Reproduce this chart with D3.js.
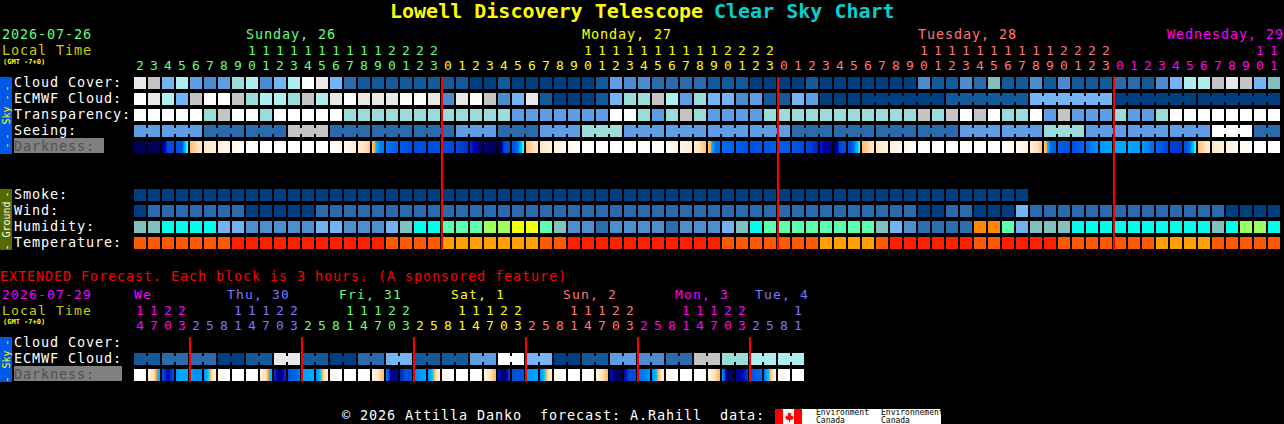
<!DOCTYPE html>
<html>
<head>
<meta charset="utf-8">
<script src="https://cdn.jsdelivr.net/npm/d3@7"></script>
<style>
  html, body { margin: 0; padding: 0; background: #000; overflow: hidden; }
  svg { display: block; }
  text { font-family: "DejaVu Sans Mono", monospace; white-space: pre; }
</style>
</head>
<body>
<div id="chart"></div>
<script>
// hours of the near forecast, one block per hour
var hours = [2,3,4,5,6,7,8,9,10,11,12,13,14,15,16,17,18,19,20,21,22,23,
  0,1,2,3,4,5,6,7,8,9,10,11,12,13,14,15,16,17,18,19,20,21,22,23,
  0,1,2,3,4,5,6,7,8,9,10,11,12,13,14,15,16,17,18,19,20,21,22,23,
  0,1,2,3,4,5,6,7,8,9,10,11];
var days = ['Sunday, 26', 'Monday, 27', 'Tuesday, 28', 'Wednesday, 29'];
var dayColors = ['#66ff77', '#ffff00', '#ff7777', '#ff00ff'];

// hours of the extended forecast, one block per 3 hours
var extHours = [14,17,20,23,
  2,5,8,11,14,17,20,23, 2,5,8,11,14,17,20,23, 2,5,8,11,14,17,20,23,
  2,5,8,11,14,17,20,23, 2,5,8,11,14,17,20,23, 2,5,8,11];
var extDays = ['We', 'Thu, 30', 'Fri, 31', 'Sat, 1', 'Sun, 2', 'Mon, 3', 'Tue, 4'];
var extDayColors = ['#ff00ff', '#7777ff', '#66ff77', '#ffff00', '#ff7777', '#ff00ff', '#7777ff'];

// sky levels, 0 = clear .. 10 = overcast, 11 = the greyish teal
var cloudColors = ['#003f7f', '#135a9a', '#2a6bad', '#4c8bcf', '#5e9de3', '#75b5f5',
  '#99dcd9', '#aeeeee', '#c4c4c4', '#e8e8e8', '#ffffff', '#80bfbf'];
var humidityColors = ['#2c6dae', '#4e8dd0', '#73b2f2', '#82c0c0', '#00ffea', '#5cffb0', '#9cff60', '#eeff10', '#ff8800'];
var temperatureColors = ['#ffa000', '#ff5a00', '#ff2000'];

var cloudCover = [9,8,5,7,4,3,4,6,7,3,5,7,10,9,5,2,1,1,1,1,1,1,
  1,1,0,0,1,0,0,0,0,0,0,1,4,3,3,2,2,2,2,1,1,1,0,0,
  0,0,1,0,0,0,0,0,0,0,3,1,1,3,2,11,1,1,3,1,3,1,1,1,
  2,2,1,3,5,7,7,8,9,8,5,11];
var ecmwf = [10,9,7,5,8,10,10,8,6,7,7,6,8,7,9,10,9,9,9,10,10,9,
  3,9,10,8,3,5,9,1,0,0,0,1,5,6,6,8,7,4,6,5,5,3,4,1,
  1,5,4,0,0,0, 0,1,5,0,0];
var ecmwfSpans = [1,1,1,1,1,1,1,1,1,1,1,1,1,1,1,1,1,1,1,1,1,1,
  1,1,1,1,1,1,1,1,1,1,1,1,1,1,1,1,1,1,1,1,1,1,1,1,
  1,1,1,1,1,1, 6,6,6,6,6];
var transparency = [10,10,10,10,10,6,8,10,10,6,10,10,10,10,10,6,6,6,6,6,6,6,
  6,6,6,6,6,4,4,4,4,4,4,4,10,10,6,4,6,8,6,4,4,4,4,6,
  6,6,6,6,6,6,6,6,6,6,8,6,8,10,8,10,6,6,10,4,8,4,4,4,
  6,4,4,6,10,10,10,10,10,10,10,10];
var seeing = [4,4,2,2,8,2,2,2,4,2,4,6,4,4,4,4,2,2,2,2,4,4,6,4,4,4,10,2];
var seeingSpans = [2,3,3,3,3,3,3,3,3,3,3,3,3,3,3,3,3,3,3,3,3,3,3,3,3,3,3,2];
// limiting magnitude at every hour boundary, negative = daylight
var darkness = [6,6,6,3,-0.4,-1.2,-1.8,-2.5,-3.5,-4,-4,-4,-4,-4,-3.8,-2.8,-1.6,-0.5,1.8,2.6,3.1,3,3.1,
  3.2,3.8,5.5,6,3,-0.4,-1.2,-1.9,-2.8,-4,-4,-4,-4,-4,-4,-3.2,-2.3,-1.4,-0.4,2,2.4,3,2.8,2.6,
  2.6,3.2,4,5.4,3,-0.3,-1.2,-1.9,-2.8,-4,-4,-4,-4,-4,-4,-4,-2.9,-1.9,-0.4,2.4,3,2.2,1.4,1,
  1,1.3,2.2,3.4,3.6,-0.4,-1.3,-2,-3,-4,-4,-4];
// dawn and dusk blocks change too fast for two stops
var twilightCols = [2,3,17,26,27,41,50,51,65,75];
var twilightStops = [[5.2,4.5,3,3,3],[3,3,3,0.5,-0.4],[-0.5,-0.05,1.5,1.8,1.8],[6,5.5,3.2,3,3],[3,2.8,2,0.5,-0.4],
  [-0.5,-0.05,1.8,2,2],[5.8,5,3.2,3,3],[3,3,2,0.5,-0.3],[-0.5,-0.05,2,2.4,2.4],[3,2.8,2,0.5,-0.4]];
var darkMags = [-4,-3,-2,-1,-0.2,0,0.01,0.3,1,1.5,2,2.5,3,3.5,4,4.5,5,5.5,6];
var darkColors = ['#ffffff','#fffaf2','#fff2e0','#ffe4c0','#ffb060','#ff9020','#00ffff','#00c0ff',
  '#00a8ff','#0090ff','#0070f0','#0060e8','#0050e0','#0040d0','#0020c0','#0000b0','#000090','#000070','#000058'];

var smoke = [0,0,0,0,0,0,0,0,0,0,0,0,0,0,0,0,0,0,0,0,0,0,
  0,0,0,0,0,0,0,0,0,0,0,0,0,0,0,0,0,0,0,0,0,0,0,0,
  0,0,0,0,0,0,0,0,0,0,0,0,0,0,0,0,0,0];
var wind = [0,2,2,2,2,2,2,2,0,0,0,0,0,2,2,2,2,2,2,2,2,2,
  2,2,2,2,2,2,2,2,2,2,2,2,2,2,2,2,2,2,2,2,2,2,2,2,
  2,2,2,2,2,2,2,2,2,2,0,0,2,2,0,0,0,5,2,2,2,2,2,2,
  2,2,2,2,2,2,2,2,0,0,0,0];
var humidity = [3,3,4,4,4,4,2,2,1,1,1,1,1,2,2,1,1,1,2,3,4,4,
  5,5,5,6,6,7,7,5,3,1,1,0,1,1,1,1,0,1,1,1,2,3,4,5,
  5,5,5,5,5,5,5,3,2,1,0,0,0,0,8,8,5,2,3,3,3,4,4,4,
  4,4,4,4,4,4,4,3,4,6,6,4];
var temperature = [1,1,1,1,1,1,1,2,2,2,2,2,2,2,2,2,2,2,1,1,1,1,
  0,0,0,0,0,0,0,1,1,2,2,2,2,2,2,2,2,2,2,2,1,1,1,1,
  1,1,1,0,0,0,0,1,2,2,2,2,2,2,1,1,2,2,2,2,1,1,1,1,
  1,1,1,0,0,0,0,1,1,1,1,1];

var extEcmwf = [1,2,2,0,1,9,1,0,2,5,1,1,4,10,5,0,1,4,3,2,8,6,7,7];
var extSpans = [2,2,2,2,2,2,2,2,2,2,2,2,2,2,2,2,2,2,2,2,2,2,2,2];
// magnitude at left, middle and right of each 3 hour block
var extDarkness = [[-4,-4,-3],[-2,-0.8,1],[3,4.5,3],[1.4,1,1],[1,1.5,1.5],[1.5,-0.2,-1.8],[-2.5,-4,-4],[-4,-4,-4],
  [-4,-4,-2.8],[-2,-0.8,1],[3.5,5.5,3.5],[3,2.4,1.8],[1.2,1,1],[1.6,-0.2,-1.8],[-2.5,-4,-4],[-4,-4,-4],
  [-4,-4,-3],[-2.5,-1,-0.3],[1.5,5.5,5],[4,3,3],[2,1.2,1.2],[1.6,-0.2,-1.8],[-2.5,-4,-4],[-4,-4,-4],
  [-4,-4,-2.8],[-2.2,-1,-0.2],[4,6,3.2],[3,3,2.8],[1.5,1.2,1.2],[1.5,-0.2,-1.8],[-2.5,-4,-4],[-4,-4,-4],
  [-4,-3.5,-2.5],[-2.2,-1,-0.2],[4,6,5.8],[4.5,3.2,3],[2,1.8,1.4],[1.6,-0.1,-1.8],[-2.5,-4,-4],[-4,-4,-4],
  [-4,-3.5,-2.5],[-2.2,-1,-0.2],[1,6,6],[5,4.5,3.5],[3,2.5,2],[2,-0.2,-1.8],[-2.5,-4,-4],[-4,-4,-4]];

var skyLabels = ['Cloud Cover:', 'ECMWF Cloud:', 'Transparency:', 'Seeing:', 'Darkness:'];
var groundLabels = ['Smoke:', 'Wind:', 'Humidity:', 'Temperature:'];
var extLabels = ['Cloud Cover:', 'ECMWF Cloud:', 'Darkness:'];

var width = 1284, height = 424;
var svg = d3.select('#chart').append('svg').attr('width', width).attr('height', height);

var cloudScale = d3.scaleOrdinal(d3.range(cloudColors.length), cloudColors);
var humidityScale = d3.scaleOrdinal(d3.range(humidityColors.length), humidityColors);
var temperatureScale = d3.scaleOrdinal(d3.range(temperatureColors.length), temperatureColors);
var darkScale = d3.scaleLinear().domain(darkMags).range(darkColors);

// 14 pixel step, 12 pixel block
function blockScale(n) {
  var band = d3.scaleBand().domain(d3.range(n)).range([134, 134 + 14 * n - 2]).paddingInner(1 / 7).paddingOuter(0);
  var xs = function (i) { return Math.round(band(i)); };
  xs.bandwidth = function () { return Math.round(band.bandwidth()); };
  return xs;
}
var x = blockScale(hours.length);
var extX = blockScale(extHours.length);

var skyY = d3.scaleBand().domain(skyLabels).range([77, 77 + 16 * 5 - 4]).paddingInner(0.25).paddingOuter(0);
var groundY = d3.scaleBand().domain(groundLabels).range([189, 189 + 16 * 4 - 4]).paddingInner(0.25).paddingOuter(0);
var extY = d3.scaleBand().domain(extLabels).range([337, 337 + 16 * 3 - 4]).paddingInner(0.25).paddingOuter(0);

// text keeps the 9 pixel character pitch of the original whatever its size
function addText(s, px, py, color, size) {
  size = size || 13.5;
  return svg.append('text').attr('x', px).attr('y', py).attr('fill', color)
    .style('font-size', size + 'px')
    .style('letter-spacing', (9 - 0.602 * size) + 'px')
    .text(s);
}

function addFree(s, px, py, color, size, weight) {
  return svg.append('text').attr('x', px).attr('y', py).attr('fill', color)
    .style('font-size', size + 'px').style('font-weight', weight || 'normal').text(s);
}

// plain row, one block per value
function drawRow(values, xs, y, colorOf) {
  svg.append('g').attr('shape-rendering', 'crispEdges').selectAll('rect')
    .data(values).join('rect')
    .attr('x', function (d, i) { return xs(i); })
    .attr('y', y)
    .attr('width', xs.bandwidth())
    .attr('height', 12)
    .attr('fill', colorOf);
}

// row where a value holds for several blocks, neighbours joined by a narrow link
function drawSpanRow(values, spans, xs, y, colorOf) {
  var g = svg.append('g').attr('shape-rendering', 'crispEdges');
  var col = 0;
  values.forEach(function (v, k) {
    for (var j = 0; j < spans[k]; j++) {
      g.append('rect').attr('x', xs(col)).attr('y', y).attr('width', xs.bandwidth()).attr('height', 12).attr('fill', colorOf(v));
      if (j < spans[k] - 1) {
        g.append('rect').attr('x', xs(col) + xs.bandwidth()).attr('y', y + 3).attr('width', 2).attr('height', 6).attr('fill', colorOf(v));
      }
      col++;
    }
  });
}

function drawDarkness(stops, xs, y) {
  var g = svg.append('g').attr('shape-rendering', 'crispEdges');
  stops.forEach(function (s, i) {
    var pos = d3.scaleLinear().domain(d3.range(s.length).map(function (k) { return k * 12 / (s.length - 1); })).range(s);
    d3.range(12).forEach(function (p) {
      g.append('rect').attr('x', xs(i) + p).attr('y', y).attr('width', 1).attr('height', 12)
        .attr('fill', darkScale(pos(p + 0.5)));
    });
  });
}

function drawHours(hrs, xs, colors, tensY, unitsY) {
  var day = 0;
  hrs.forEach(function (h, i) {
    if (i > 0 && h < hrs[i - 1]) day++;
    var cx = xs(i) + xs.bandwidth() / 2;
    if (h >= 10) addFree(Math.floor(h / 10), cx, tensY, colors[day], 13).attr('text-anchor', 'middle');
    addFree(h % 10, cx, unitsY, colors[day], 13).attr('text-anchor', 'middle');
  });
}

function drawMidnights(hrs, xs, y0, y1) {
  var cols = d3.range(1, hrs.length).filter(function (i) { return hrs[i] < hrs[i - 1]; });
  svg.append('g').attr('shape-rendering', 'crispEdges').selectAll('rect')
    .data(cols).join('rect')
    .attr('x', function (i) { return xs(i) - 1; })
    .attr('y', y0).attr('width', 2).attr('height', y1 - y0)
    .attr('fill', '#ff0000');
}

function sideBar(y0, y1, color, word, textColor, dash, dashOffset) {
  var mid = (y0 + y1) / 2;
  svg.append('rect').attr('x', 0).attr('y', y0).attr('width', 12).attr('height', y1 - y0).attr('fill', color).attr('shape-rendering', 'crispEdges');
  [[word, 0, 10], [dash, -dashOffset, 9.5], [dash, dashOffset, 9.5]].forEach(function (t) {
    svg.append('text').attr('transform', 'translate(' + t[2] + ',' + (mid + t[1]) + ') rotate(-90)')
      .attr('text-anchor', 'middle').attr('fill', textColor).style('font-size', '10px')
      .style('letter-spacing', t[0] === word ? '0px' : '3px').text(t[0]);
  });
}

function rowLabels(labels, yScale) {
  labels.forEach(function (s) {
    var by = yScale(s) + 10;
    if (s === 'Darkness:') {
      var w = labels === extLabels ? 108 : 90;
      svg.append('rect').attr('x', 14).attr('y', yScale(s) - 3).attr('width', w).attr('height', 15).attr('fill', '#808080').attr('shape-rendering', 'crispEdges');
      addText(s, 14, by, '#505050');
    } else {
      addText(s, 14, by, '#ffffff');
    }
  });
}

// title
addFree('Lowell Discovery Telescope', 390, 18, '#ffff00', 20, 'bold');
addFree('Clear Sky Chart', 714, 18, '#00d0d0', 20, 'bold');

// near forecast header
addText('2026-07-26', 2, 39, dayColors[0]);
addText('Local Time', 2, 55, '#cccc00');
addFree('(GMT -7+0)', 3, 64, '#ffff00', 7, 'bold');
addText(days[0], 246, 39, dayColors[0]);
addText(days[1], 582, 39, dayColors[1]);
addText(days[2], 918, 39, dayColors[2]);
addText(days[3], 1167, 39, dayColors[3]);
drawHours(hours, x, dayColors, 55, 70);

sideBar(77, 154, '#0058e8', 'Sky', '#ffff00', '--', 24);
sideBar(189, 250, '#556b00', 'Ground', '#ffffff', '-', 26.5);
rowLabels(skyLabels, skyY);
rowLabels(groundLabels, groundY);

drawRow(cloudCover, x, skyY(skyLabels[0]), cloudScale);
drawSpanRow(ecmwf, ecmwfSpans, x, skyY(skyLabels[1]), cloudScale);
drawRow(transparency, x, skyY(skyLabels[2]), cloudScale);
drawSpanRow(seeing, seeingSpans, x, skyY(skyLabels[3]), cloudScale);
var darkStops = d3.pairs(darkness);
twilightCols.forEach(function (c, k) { darkStops[c] = twilightStops[k]; });
drawDarkness(darkStops, x, skyY(skyLabels[4]));

drawRow(smoke, x, groundY(groundLabels[0]), cloudScale);
drawRow(wind, x, groundY(groundLabels[1]), cloudScale);
drawRow(humidity, x, groundY(groundLabels[2]), humidityScale);
drawRow(temperature, x, groundY(groundLabels[3]), temperatureScale);
drawMidnights(hours, x, 77, 250);

// extended forecast
addText('EXTENDED Forecast. Each block is 3 hours. (A sponsored feature)', 0, 281, '#ff0000');
addText('2026-07-29', 2, 299, '#ff00ff', 13);
addText('Local Time', 2, 315, '#cccc00', 13);
addFree('(GMT -7+0)', 3, 324, '#ffff00', 7, 'bold');
var extDayX = [134, 227, 339, 451, 563, 675, 755];
extDays.forEach(function (s, i) { addText(s, extDayX[i], 299, extDayColors[i], 13); });
drawHours(extHours, extX, extDayColors, 315, 330);

sideBar(337, 382, '#0058e8', 'Sky', '#ffff00', '-', 18.5);
rowLabels(extLabels, extY);
drawSpanRow(extEcmwf, extSpans, extX, extY(extLabels[1]), cloudScale);
drawDarkness(extDarkness, extX, extY(extLabels[2]));
drawMidnights(extHours, extX, 337, 382);

// footer
addText('\u00a9 2026 Attilla Danko  forecast: A.Rahill  data:', 342, 420, '#ffffff');
svg.append('rect').attr('x', 775).attr('y', 409).attr('width', 166).attr('height', 15).attr('fill', '#ffffff');
svg.append('rect').attr('x', 775).attr('y', 409).attr('width', 8).attr('height', 15).attr('fill', '#ff0000');
svg.append('rect').attr('x', 794).attr('y', 409).attr('width', 8).attr('height', 15).attr('fill', '#ff0000');
svg.append('path').attr('d', 'M788.5 411l1.5 2.5 1.5-.5-.5 3 1.5-.5 .5 1.5 1-.5-1 3-3 .5v2h-1v-2l-3-.5-1-3 1 .5 .5-1.5 1.5 .5-.5-3 1.5 .5z').attr('fill', '#ff0000');
addFree('Environment', 816, 415, '#000000', 8);
addFree('Canada', 816, 423, '#000000', 8);
addFree('Environnement', 881, 415, '#000000', 8);
addFree('Canada', 881, 423, '#000000', 8);
</script>
</body>
</html>
